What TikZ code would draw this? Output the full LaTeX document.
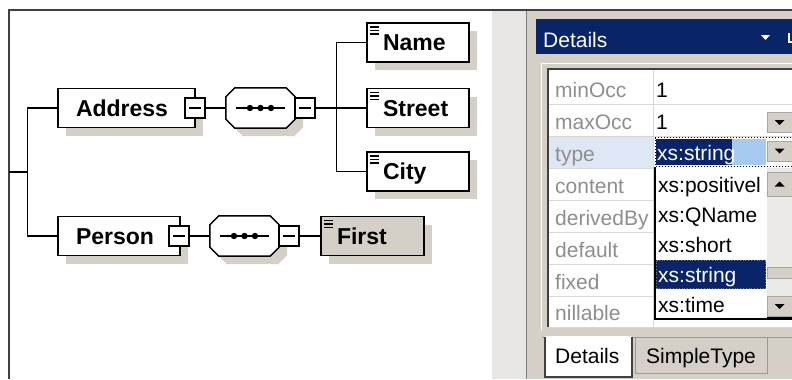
\documentclass[tikz,border=0pt]{standalone}
\usepackage{fontspec}
\setmainfont{Liberation Sans}
\usetikzlibrary{shadows}

\definecolor{winface}{HTML}{D4D0C8}
\definecolor{titleblue}{HTML}{0A246A}
\definecolor{paleblue}{HTML}{A6CAF0}
\definecolor{rowblue}{HTML}{DDE7F5}
\definecolor{labelgray}{HTML}{8E8E8E}
\definecolor{framegray}{HTML}{404040}
\definecolor{splitgray}{HTML}{E8E6E2}
\definecolor{gridgray}{HTML}{DAD6CE}
\definecolor{trackgray}{HTML}{ECEAE6}

\newcommand\diagfont{\fontsize{23bp}{26bp}\selectfont\bfseries}
\newcommand\uifont{\fontsize{21bp}{24bp}\selectfont}

% octagon outline of a sequence compositor, shifted by (#2,#3)
\newcommand\octa[3]{([xshift=#2+9bp,yshift=#3]#1.north west) -- ([xshift=#2-9bp,yshift=#3]#1.north east)
  -- ([xshift=#2,yshift=#3-9bp]#1.north east) -- ([xshift=#2,yshift=#3+9bp]#1.south east)
  -- ([xshift=#2-9bp,yshift=#3]#1.south east) -- ([xshift=#2+9bp,yshift=#3]#1.south west)
  -- ([xshift=#2,yshift=#3+9bp]#1.south west) -- ([xshift=#2,yshift=#3-9bp]#1.north west) -- cycle}

\newcommand\seqoct[1]{%
  \fill[winface] \octa{#1}{8bp}{-8bp};
  \draw[line width=1.5bp, fill=white] \octa{#1}{0bp}{0bp};
  \draw[line width=1.3bp] ([xshift=10bp]#1.west) -- ([xshift=-10bp]#1.east);
  \foreach \dx in {-10.5,0,10.5} \fill ([xshift=\dx bp]#1.center) circle (3.2bp);
}

\tikzset{
  elem/.style={draw=black, line width=1.5bp, fill=white, minimum height=39bp,
    inner ysep=0pt, align=left, text height=20bp, text depth=4bp, font=\diagfont,
    drop shadow={shadow xshift=8bp, shadow yshift=-8bp, fill=winface, opacity=1}},
  leaf/.style={path picture={
    \foreach \dy in {4,7.5,11}
      \draw[line width=1.3bp] ([xshift=3bp,yshift=-\dy bp]path picture bounding box.north west) -- ++(9bp,0bp);}},
  minus/.style={draw=black, line width=1.4bp, fill=white, minimum size=20bp, inner sep=0pt,
    path picture={\draw[line width=1.2bp] ([xshift=4bp]path picture bounding box.west)
      -- ([xshift=-4bp]path picture bounding box.east);}},
  seq/.style={minimum width=69bp, minimum height=40bp, inner sep=0pt},
  conn/.style={line width=1.3bp, black},
  uitext/.style={font=\uifont, inner sep=0pt, anchor=base west},
  prop/.style={uitext, text=labelgray},
  btn/.style={fill=winface, draw=gray!70, line width=0.8bp, inner sep=0pt, minimum width=25bp, minimum height=20bp},
}

\begin{document}
\begin{tikzpicture}[x=1bp, y=-1bp]
\useasboundingbox (0,0) rectangle (792,379);
\clip (0,0) rectangle (792,379);
\fill[white] (0,0) rectangle (792,379);

% ---------- schema tree ----------
\draw[framegray, line width=2bp] (8.5,379) -- (8.5,10) -- (792,10);

\node[elem, text width=101bp, inner xsep=18bp] (addr) at (126.5,108) {Address};
\node[minus] (addrTog) at (195,108) {};
\node[seq] (seqA) at (260.5,108) {};
\seqoct{seqA}
\node[minus] (seqATog) at (305,108) {};

\node[elem, leaf, text width=70bp, inner xsep=16bp] (name) at (418,42.5) {Name};
\node[elem, leaf, text width=70bp, inner xsep=16bp] (street) at (418,108) {Street};
\node[elem, leaf, text width=70bp, inner xsep=16bp] (city) at (418,171.5) {City};

\node[elem, text width=86bp, inner xsep=18bp] (pers) at (119,236) {Person};
\node[minus] (persTog) at (179,236) {};
\node[seq] (seqP) at (244.5,236) {};
\seqoct{seqP}
\node[minus] (seqPTog) at (289,236) {};
\node[elem, leaf, fill=winface, text width=71bp, inner xsep=16bp] (first) at (372.5,236) {First};

\coordinate (rootStub) at (8.5,172);
\draw[conn] (addr.west) -- ++(-30,0) coordinate (trunk) |- (pers.west);
\draw[conn] (rootStub) -- (trunk |- rootStub);
\draw[conn] (addrTog.east) -- (seqA.west);
\draw[conn] (seqATog.east) -- (street.west);
\draw[conn] (seqATog.east) -- ++(21,0) coordinate (fork) |- (name.west);
\draw[conn] (fork) |- (city.west);
\draw[conn] (persTog.east) -- (seqP.west);
\draw[conn] (seqPTog.east) -- (first.west);

% ---------- splitter and details pane ----------
\fill[splitgray] (492,11) rectangle (526,379);
\fill[winface] (527,11) rectangle (792,379);
\draw[gray, line width=1bp] (526.5,11) -- (526.5,379);

\fill[titleblue] (536,19) rectangle (792,54);
\node[uitext, text=white] (title) at (543,47) {Details};
\fill[white] (761,35) -- (770,35) -- (765.5,40) -- cycle;
\draw[white, line width=1.5bp] (789,33) -- (789,42) -- (792,42);

% property grid
\fill[white] (548,70) rectangle (792,327);
\draw[white, line width=1bp] (541.5,331) -- (541.5,63.5) -- (792,63.5);
\draw[framegray, line width=2bp] (548,327) -- (548,69) -- (792,69);
\fill[rowblue] (549,137) rectangle (653,168);
\foreach \yy in {104,136,168,200,232,264,296,327}
  \draw[gridgray, line width=1bp] (549,\yy) -- (792,\yy);
\draw[gridgray, line width=1bp] (653,70) -- (653,327);

\node[prop] (pMin) at (555,97) {minOcc};
\node[prop] (pMax) at (555,129) {maxOcc};
\node[prop] (pType) at (555,161) {type};
\node[prop] (pContent) at (555,193) {content};
\node[prop] (pDerived) at (555,225) {derivedBy};
\node[prop] (pDefault) at (555,257) {default};
\node[prop] (pFixed) at (555,289) {fixed};
\node[prop] (pNil) at (555,320) {nillable};

\node[uitext] (vMin) at (656,97) {1};
\node[uitext] (vMax) at (656,129) {1};
\node[btn] (btnMax) at (779.5,122.5) {};
\fill ([xshift=-5bp,yshift=2.5bp]btnMax.center) -- ++(10bp,0bp) -- ++(-5bp,-5bp) -- cycle;

% type value cell with open drop-down
\fill[titleblue] (656,139) rectangle (732,165);
\fill[paleblue] (732,139) rectangle (766,165);
\draw[black, dotted, line width=1bp] (655,137.5) rectangle (800,166.5);
\node[uitext, text=white] (vType) at (657,160) {xs:string};
\node[btn] (btnType) at (779.5,151) {};
\fill ([xshift=-5bp,yshift=2.5bp]btnType.center) -- ++(10bp,0bp) -- ++(-5bp,-5bp) -- cycle;

\fill[white] (655,168) rectangle (767,318);
\fill[trackgray] (767,168) rectangle (792,318);
\fill[titleblue] (656,260) rectangle (766,289);
\draw[gray, dotted, line width=0.8bp] (656.5,260.5) rectangle (765.5,288.5);
\draw[black, line width=1.5bp] (655,167) -- (655,319) -- (792,319);
\draw[black, line width=2.5bp] (767,318.5) -- (792,318.5);

\node[uitext] (o1) at (658,192) {xs:positivel};
\node[uitext] (o2) at (658,222) {xs:QName};
\node[uitext] (o3) at (658,252) {xs:short};
\node[uitext, text=white] (o4) at (658,282) {xs:string};
\node[uitext] (o5) at (658,312) {xs:time};

\node[btn, minimum height=24bp] (btnUp) at (779.5,184) {};
\fill ([xshift=-5bp,yshift=-2.5bp]btnUp.center) -- ++(10bp,0bp) -- ++(-5bp,5bp) -- cycle;
\node[btn, minimum height=11bp] (thumb) at (779.5,272.5) {};
\node[btn, minimum height=20bp] (btnDown) at (779.5,306.5) {};
\fill ([xshift=-5bp,yshift=2.5bp]btnDown.center) -- ++(10bp,0bp) -- ++(-5bp,-5bp) -- cycle;

% tabs
\draw[gray!80, line width=1bp] (542,337.5) -- (792,337.5);
\draw[gray!80, line width=1bp, fill=winface] (635,337.5) -- (635,373) -- (767,373) -- (767,337.5);
\node[uitext] (tabSimple) at (646,363) {SimpleType};
\fill[white] (545,336) rectangle (632,377);
\draw[framegray, line width=1.2bp] (545,337) -- (545,377) -- (632,377) -- (632,337);
\node[uitext] (tabDetails) at (555,363) {Details};
\end{tikzpicture}
\end{document}
